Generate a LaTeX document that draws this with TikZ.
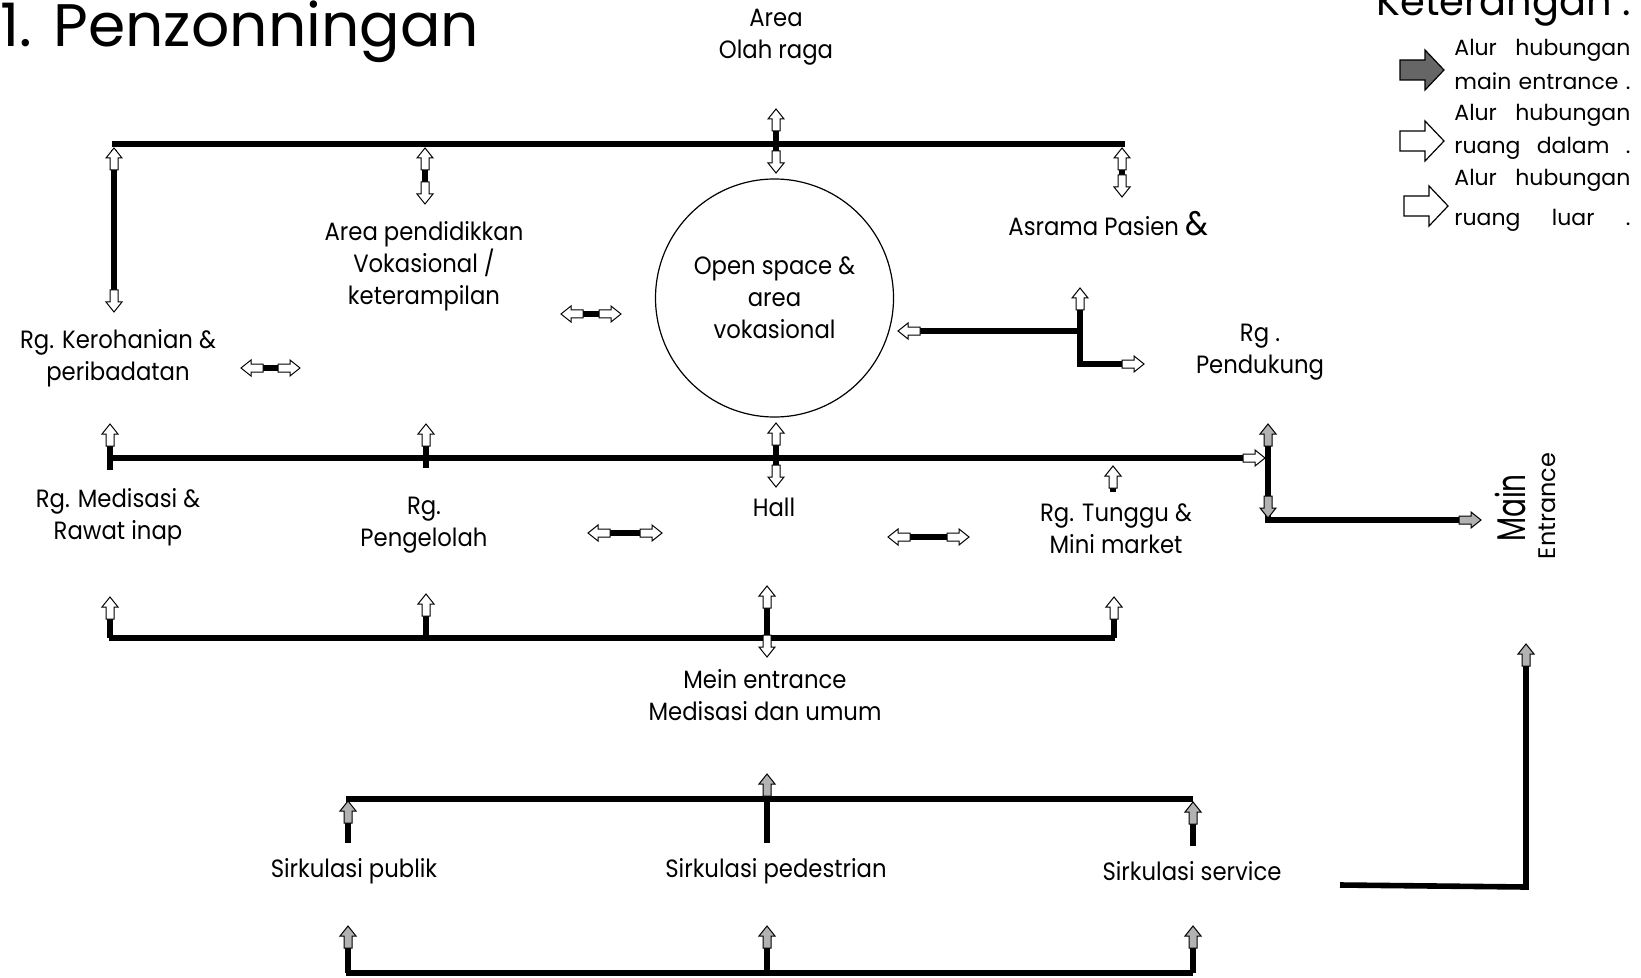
\documentclass[tikz,border=0pt]{standalone}
\usepackage{fontspec}
\setmainfont{Poppins}
\newfontfamily\lblfont{Poppins}[FakeStretch=0.91]
\newfontfamily\narfont{Poppins}[FakeStretch=0.7]
\tikzset{
  wa/.pic={\draw[fill=white,line width=0.5pt,line join=miter] (0,0)--(-10,-8)--(-10,-4)--(-22,-4)--(-22,4)--(-10,4)--(-10,8)--cycle;},
  ta/.pic={\draw[fill=black!30,line width=0.5pt,line join=miter] (0,0)--(-10,-8)--(-10,-4)--(-22,-4)--(-22,4)--(-10,4)--(-10,8)--cycle;},
  la/.pic={\draw[fill=white,line width=0.6pt,line join=miter] (0,0)--(-19,-20)--(-19,-10)--(-44,-10)--(-44,10)--(-19,10)--(-19,20)--cycle;},
  lad/.pic={\draw[fill=black!60,line width=0.6pt,line join=miter] (0,0)--(-19,-20)--(-19,-10)--(-44,-10)--(-44,10)--(-19,10)--(-19,20)--cycle;},
}
\newcommand\arUp[2]{\pic[rotate=90] at (#1,#2) {wa};}
\newcommand\arDn[2]{\pic[rotate=-90] at (#1,#2) {wa};}
\newcommand\arLf[2]{\pic[rotate=180] at (#1,#2) {wa};}
\newcommand\arRt[2]{\pic at (#1,#2) {wa};}
\newcommand\taUp[2]{\pic[rotate=90] at (#1,#2) {ta};}
\newcommand\taDn[2]{\pic[rotate=-90] at (#1,#2) {ta};}
\newcommand\taRt[2]{\pic at (#1,#2) {ta};}
\newcommand\dblA[3]{\draw[stem] ({#1+18},#3) -- ({#2-18},#3); \arLf{#1}{#3} \arRt{#2}{#3}}
\begin{document}
\begin{tikzpicture}[x=0.5pt,y=-0.5pt,
  bar/.style={line width=2.8pt},
  stem/.style={line width=3.4pt},
  lbl/.style={font=\lblfont\fontsize{12.5}{16}\selectfont, align=center, inner sep=0pt},
  leg/.style={font=\fontsize{11}{13}\selectfont, anchor=base west, inner sep=0pt}]
\useasboundingbox (0,0) rectangle (1641,978);

% title and legend
\node[anchor=base west, inner sep=0pt, font=\fontsize{30}{30}\selectfont] (title) at (0,47) {1. Penzonningan};
\node[anchor=base west, inner sep=0pt, font=\fontsize{20}{20}\selectfont] (ket) at (1376,16) {Keterangan .};
\pic at (1444,70) {lad};
\pic at (1444,141) {la};
\pic at (1448,206) {la};
\node[leg] (l1) at (1454,56) {\makebox[88pt][s]{Alur \hfill hubungan}};
\node[leg] (l2) at (1454,90) {\makebox[88pt][s]{main entrance .}};
\node[leg] (l3) at (1454,121) {\makebox[88pt][s]{Alur \hfill hubungan}};
\node[leg] (l4) at (1454,154) {\makebox[88pt][s]{ruang \hfill dalam \hfill .}};
\node[leg] (l5) at (1454,186) {\makebox[88pt][s]{Alur \hfill hubungan}};
\node[leg] (l6) at (1454,226) {\makebox[88pt][s]{ruang \hfill luar \hfill .}};

% top bus
\coordinate (T0) at (112,144); \coordinate (T1) at (1125,144);
\draw[bar] (T0) -- (T1);
\draw[stem] (114,150) -- (114,300); \arUp{114}{148} \arDn{114}{312}
\draw[stem] (425,160) -- (425,195); \arUp{425}{148} \arDn{425}{204}
\draw[stem] (776,125) -- (776,160); \arUp{776}{109} \arDn{776}{173}
\draw[stem] (1122,160) -- (1122,185); \arUp{1122}{148} \arDn{1122}{197}

\node[lbl] (olah) at (776,37) {Area\\Olah raga};
\node[lbl] (pend) at (424,266) {Area pendidikkan\\Vokasional /\\keterampilan};
\node[lbl,anchor=west] (asr) at (1008,224) {Asrama Pasien {\fontsize{17}{17}\selectfont\&}};
\node[circle,draw,line width=0.6pt,minimum size=119pt,lbl] (os) at (774.5,298) {Open space \&\\area\\vokasional};
\node[lbl] (kero) at (118,358) {Rg. Kerohanian \&\\peribadatan};
\node[lbl] (pdk) at (1260,352) {Rg .\\Pendukung};

\dblA{561}{621}{314}
\dblA{241}{300}{368}

% connector right of circle
\coordinate (RJ) at (1080,331);
\draw[bar] (916,331) -- (RJ);
\draw[stem] (1080,300) -- (1080,364) -- (1126,364);
\arLf{898}{331} \arUp{1080}{288} \arRt{1144}{364}

% middle bus
\coordinate (M0) at (109,458); \coordinate (M1) at (1248,458);
\draw[bar] (M0) -- (M1); \arRt{1265}{458}
\draw[stem] (110,470) -- (110,440); \arUp{110}{424}
\draw[stem] (426,468) -- (426,440); \arUp{426}{424}
\draw[stem] (776,440) -- (776,470); \arUp{776}{423} \arDn{776}{487}
\draw[stem] (1113,480) -- (1113,492); \arUp{1113}{466}
\draw[stem] (1268,440) -- (1268,520) -- (1465,520);
\taUp{1268}{424} \taDn{1268}{518} \taRt{1481}{520}

\node[rotate=90, inner sep=0pt, font=\narfont\fontsize{20}{20}\selectfont] (me1) at (1510,508) {Main};
\node[rotate=90, inner sep=0pt, font=\fontsize{12}{12}\selectfont] (me2) at (1547,506) {Entrance};

\node[lbl] (med) at (118,517) {Rg. Medisasi \&\\Rawat inap};
\node[lbl] (pgl) at (424,525) {Rg.\\Pengelolah};
\node[lbl] (hall) at (774,507) {Hall};
\node[lbl] (tgu) at (1116,529) {Rg. Tunggu \&\\Mini market};
\dblA{588}{662}{533}
\dblA{888}{969}{537}

% lower bus
\coordinate (L0) at (109,638); \coordinate (L1) at (1115,638);
\draw[bar] (L0) -- (L1);
\draw[stem] (110,612) -- (110,638); \arUp{110}{597}
\draw[stem] (426,610) -- (426,638); \arUp{426}{594}
\draw[stem] (767,600) -- (767,645); \arUp{767}{586} \arDn{767}{657}
\draw[stem] (1114,612) -- (1114,638); \arUp{1114}{597}
\node[lbl] (mein) at (765,695) {Mein entrance\\Medisasi dan umum};

% bottom buses
\coordinate (B0) at (346,799); \coordinate (B1) at (1193,799);
\draw[bar] (B0) -- (B1);
\draw[stem] (348,815) -- (348,843); \taUp{348}{801}
\draw[stem] (767,790) -- (767,843); \taUp{767}{774}
\draw[stem] (1193,818) -- (1193,846); \taUp{1193}{802}
\node[lbl] (sp) at (354,871) {Sirkulasi publik};
\node[lbl] (spd) at (776,871) {Sirkulasi pedestrian};
\node[lbl] (ss) at (1192,871) {Sirkulasi service};
\coordinate (C0) at (346,973); \coordinate (C1) at (1193,973);
\draw[bar] (C0) -- (C1);
\draw[stem] (348,942) -- (348,973); \taUp{348}{926}
\draw[stem] (767,942) -- (767,973); \taUp{767}{926}
\draw[stem] (1193,942) -- (1193,973); \taUp{1193}{926}

% right L
\coordinate (R0) at (1340,885); \coordinate (R1) at (1526,887);
\draw[bar] (R0) -- (R1) -- (1526,660); \taUp{1526}{644}
\end{tikzpicture}
\end{document}
